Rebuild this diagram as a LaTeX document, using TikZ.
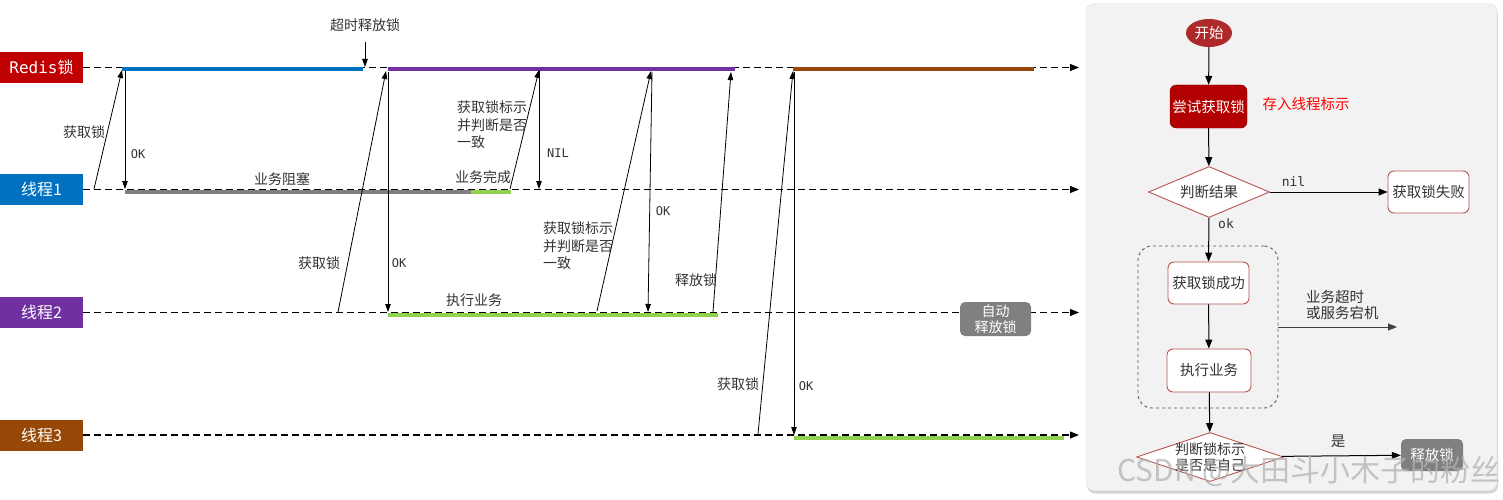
\documentclass[tikz,border=0pt]{standalone}
\usepackage{fontspec}
\setmainfont{Noto Sans CJK SC}
\setmonofont{DejaVu Sans Mono}
\usetikzlibrary{arrows.meta,shapes.geometric,shadows}
\definecolor{redisred}{HTML}{C00000}
\definecolor{t1blue}{HTML}{0070C0}
\definecolor{t2purple}{HTML}{7030A0}
\definecolor{t3brown}{HTML}{974706}
\definecolor{bargreen}{HTML}{92D050}
\definecolor{bargray}{HTML}{808080}
\definecolor{txt}{HTML}{333333}
\definecolor{panelbg}{HTML}{F2F2F2}
\definecolor{startred}{HTML}{AE2A2A}
\definecolor{boxred}{HTML}{B20000}
\definecolor{edgered}{HTML}{B85450}
\begin{document}
\begin{tikzpicture}[x=1pt,y=-1pt,
  lane/.style={minimum width=83pt, minimum height=31pt, inner sep=0pt, text=white, font=\fontsize{16}{16}\selectfont},
  dashline/.style={dash pattern=on 7pt off 4pt, line width=1.1pt, -{Triangle[length=9pt,width=7pt]}},
  bar/.style={line width=4pt},
  msg/.style={line width=0.8pt, -{Triangle[length=8pt,width=5.5pt]}},
  lbl/.style={text=txt, font=\fontsize{14}{17.5}\selectfont, inner sep=0pt},
  mono/.style={text=txt, font=\ttfamily\fontsize{12}{12}\selectfont, inner sep=0pt},
  fc/.style={font=\fontsize{14.5}{17}\selectfont},
  fbox/.style={fc, rectangle, rounded corners=6pt, draw=edgered, line width=0.9pt, fill=white, text=txt, inner sep=0pt},
  fdia/.style={diamond, draw=edgered, line width=0.9pt, fill=white, inner sep=0pt},
  farrow/.style={line width=1pt, -{Triangle[length=9pt,width=7pt]}},
  graybox/.style={rectangle, rounded corners=5pt, fill=bargray, text=white, inner sep=0pt}
]
\useasboundingbox (0,0) rectangle (1503,500);

% ---------- lanes ----------
\node[lane, fill=redisred] (redis) at (41.5,67.5) {{\ttfamily Redis}锁};
\node[lane, fill=t1blue] (th1) at (41.5,189.5) {线程1};
\node[lane, fill=t2purple] (th2) at (41.5,312.5) {线程2};
\node[lane, fill=t3brown] (th3) at (41.5,435) {线程3};

\coordinate (redisEnd) at (1079,67.5);
\coordinate (th1End) at (1079,189.5);
\coordinate (th2End) at (1079,312.5);
\coordinate (th3End) at (1079,435);
\draw[dashline] (redis.east) -- (redisEnd);
\draw[dashline] (th1.east) -- (th1End);
\draw[dashline] (th2.east) -- (th2End);
\draw[dashline] (th3.east) -- (th3End);

% ---------- bars ----------
\draw[bar, t1blue] (122,69.5) -- (363,69.5);
\draw[bar, t2purple] (388,69.5) -- (735,69.5);
\draw[bar, t3brown] (793,69.5) -- (1034,69.5);
\draw[bar, bargray] (125,191.5) -- (471,191.5);
\draw[bar, bargreen] (471,191.5) -- (511,191.5);
\draw[bar, bargreen] (388,314.5) -- (718,314.5);
\draw[bar, bargreen] (794,437.5) -- (1064,437.5);

% ---------- points ----------
\coordinate (a1s) at (94,189);
\coordinate (a1e) at (122,70);
\coordinate (ok1s) at (125,71);
\coordinate (ok1e) at (125,189);
\coordinate (tos) at (365,42);
\coordinate (toe) at (365,67);
\coordinate (c1s) at (510,189);
\coordinate (c1e) at (539,70);
\coordinate (nils) at (539,71);
\coordinate (nile) at (539,189);
\coordinate (a2s) at (338,312);
\coordinate (a2e) at (386,71);
\coordinate (ok2s) at (388,72);
\coordinate (ok2e) at (388,312);
\coordinate (c2s) at (597,311);
\coordinate (c2e) at (651,71);
\coordinate (ok3s) at (652,72);
\coordinate (ok3e) at (648,312);
\coordinate (r2s) at (713,312);
\coordinate (r2e) at (731,72);
\coordinate (a3s) at (758,434);
\coordinate (a3e) at (793,71);
\coordinate (ok4s) at (794,72);
\coordinate (ok4e) at (794,435);

\draw[msg] (a1s) -- (a1e);
\draw[msg] (ok1s) -- (ok1e);
\draw[msg] (tos) -- (toe);
\draw[msg] (c1s) -- (c1e);
\draw[msg] (nils) -- (nile);
\draw[msg] (a2s) -- (a2e);
\draw[msg] (ok2s) -- (ok2e);
\draw[msg] (c2s) -- (c2e);
\draw[msg] (ok3s) -- (ok3e);
\draw[msg] (r2s) -- (r2e);
\draw[msg] (a3s) -- (a3e);
\draw[msg] (ok4s) -- (ok4e);

% ---------- labels ----------
\node[lbl] (lto) at (365,25) {超时释放锁};
\node[lbl] (l1) at (84,132) {获取锁};
\node[mono] (lok1) at (138,154) {OK};
\node[lbl] (lblk) at (282,179) {业务阻塞};
\node[lbl] (ldone) at (483,177) {业务完成};
\node[lbl, align=left, anchor=west] (lq1) at (457,125) {获取锁标示\\并判断是否\\一致};
\node[mono] (lnil) at (558,153) {NIL};
\node[lbl] (l2) at (319,263) {获取锁};
\node[mono] (lok2) at (399,263) {OK};
\node[lbl] (lexec) at (474,300) {执行业务};
\node[lbl, align=left, anchor=west] (lq2) at (543,246) {获取锁标示\\并判断是否\\一致};
\node[mono] (lok3) at (663,211) {OK};
\node[lbl] (lrel) at (696,280) {释放锁};
\node[lbl] (l3) at (738,384) {获取锁};
\node[mono] (lok4) at (806,386) {OK};
\node[graybox, minimum width=71pt, minimum height=34pt, align=center, font=\fontsize{14}{15.5}\selectfont] (auto) at (995.5,319) {自动\\释放锁};

% ---------- right panel ----------
\node[rectangle, rounded corners=8pt, fill=panelbg, draw=black!12, minimum width=411pt, minimum height=487pt, drop shadow={shadow xshift=1pt, shadow yshift=-3pt, opacity=0.35}] (panel) at (1291.5,247) {};

\node[ellipse, fill=startred, minimum width=46pt, minimum height=28pt, inner sep=0pt, text=white, fc] (start) at (1209,33) {开始};
\node[rectangle, rounded corners=6pt, fill=boxred, draw=boxred!80!black, minimum width=77pt, minimum height=43pt, inner sep=0pt, text=white, fc] (try) at (1208.5,106.5) {尝试获取锁};
\node[text=red, fc, inner sep=0pt] (store) at (1306,104) {存入线程标示};
\node[fdia, minimum width=121pt, minimum height=51pt, label={[fc, text=txt]center:判断结果}] (judge) at (1209,192) {};
\node[fbox, minimum width=81pt, minimum height=42pt] (fail) at (1428.5,192) {获取锁失败};
\node[rectangle, rounded corners=14pt, draw=black!65, dashed, line width=0.9pt, minimum width=140pt, minimum height=162pt] (grp) at (1208,327) {};
\node[fbox, minimum width=81pt, minimum height=42pt] (succ) at (1208.5,283) {获取锁成功};
\node[fbox, minimum width=84pt, minimum height=43pt] (exec) at (1209,370.5) {执行业务};
\node[fdia, minimum width=147pt, minimum height=49pt, label={[fc, text=txt, align=center, font=\fontsize{14}{16}\selectfont]center:判断锁标示\\是否是自己}] (judge2) at (1210,457) {};
\node[graybox, minimum width=62pt, minimum height=32pt, fc] (rel) at (1432,455) {释放锁};
\coordinate (toEnd) at (1397,327);

\draw[farrow] (start) -- (try);
\draw[farrow] (try) -- (judge);
\draw[farrow] (judge) -- (fail) node[pos=0.2, above=5pt, text=txt, font=\ttfamily\fontsize{13}{13}\selectfont, inner sep=0pt] (lnil2) {nil};
\draw[farrow] (judge) -- (succ);
\node[text=txt, font=\ttfamily\fontsize{13}{13}\selectfont, inner sep=0pt] (lok5) at (1226,224) {ok};
\draw[farrow] (succ) -- (exec);
\draw[farrow] (exec) -- (judge2);
\draw[farrow] (judge2) -- (rel);
\node[lbl, fc] (lyes) at (1338,441) {是};
\draw[farrow, draw=black!75] (grp.east) -- (toEnd);
\node[lbl, align=left, anchor=west, font=\fontsize{14.5}{16.5}\selectfont] (ltimeout) at (1306,305) {业务超时\\或服务宕机};

% watermark
\node[text=black!30, opacity=0.75, font=\fontsize{30}{30}\selectfont, anchor=west, inner sep=0pt] (wm) at (1117,471) {CSDN @大田斗小木子的粉丝};
\end{tikzpicture}
\end{document}
